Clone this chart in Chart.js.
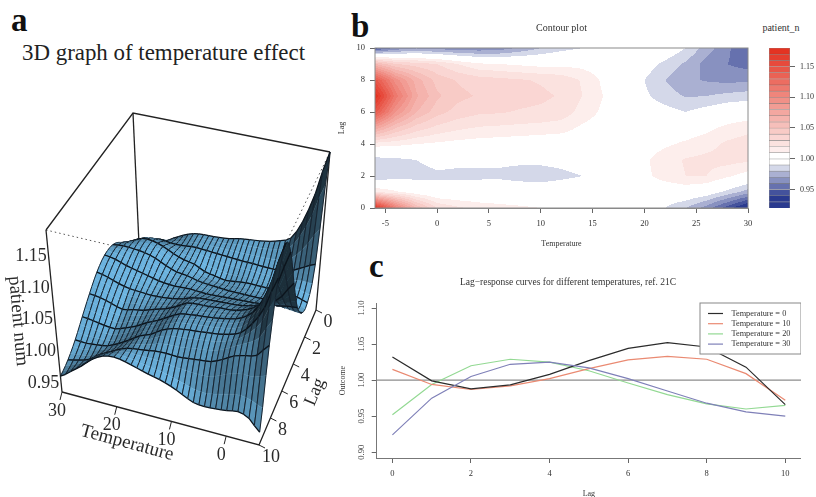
<!DOCTYPE html>
<html>
<head>
<meta charset="utf-8">
<script src="https://cdn.jsdelivr.net/npm/chart.js@4"></script>
<style>
  html, body { margin: 0; padding: 0; background: #fff; overflow: hidden; }
  body { width: 816px; height: 497px; position: relative; filter: blur(0.45px); font-family: "Liberation Serif", serif; }
  canvas { position: absolute; }
  .tag { position: absolute; font-weight: bold; font-size: 33px; line-height: 33px; color: #111; }
  #title3d { position: absolute; left: 22px; top: 40px; font-size: 22.9px; line-height: 26px; color: #222; white-space: nowrap; }
  #keyTitle { position: absolute; left: 746px; width: 70px; top: 22px; text-align: center; font-size: 10px; line-height: 12px; color: #333; }
</style>
</head>
<body>
<div class="tag" style="left:11px;top:4px">a</div>
<div class="tag" style="left:351px;top:10px">b</div>
<div class="tag" style="left:369px;top:250px">c</div>
<div id="title3d">3D graph of temperature effect</div>
<div id="keyTitle">patient_n</div>
<canvas id="surface" width="345" height="497" style="left:0;top:0"></canvas>
<canvas id="contour" width="454" height="262" style="left:335px;top:0"></canvas>
<canvas id="colorbar" width="70" height="220" style="left:746px;top:0"></canvas>
<canvas id="curves" width="466" height="237" style="left:335px;top:262px"></canvas>
<script>
const serif = '"Liberation Serif", serif';

// lag axis and temperature columns of the effect table
const lags = [0, 1, 2, 3, 4, 5, 6, 7, 8, 9, 10];
const temps = [-6, -4, -2, 0, 2, 4, 6, 8, 10, 12, 14, 16, 18, 20, 22, 24, 26, 28, 30];

// one row per lag
const lag0 = [1.18, 1.11, 1.06, 1.03, 1.022, 1.017, 1.014, 1.012, 1.01, 1.006, 1.004, 1.003, 1.002, 0.998, 0.99, 0.98, 0.965, 0.945, 0.924];
const lag1 = [1.02, 1.012, 1.003, 0.997, 0.997, 0.997, 0.998, 0.998, 0.999, 1.0, 1.001, 1.002, 1.002, 1.0, 1.0, 1.002, 0.998, 0.987, 0.975];
const lag2 = [0.98, 0.985, 0.986, 0.988, 0.988, 0.988, 0.988, 0.986, 0.984, 0.987, 0.99, 0.998, 1.001, 1.007, 1.015, 1.02, 1.02, 1.012, 1.005];
const lag3 = [0.985, 0.987, 0.99, 0.9935, 0.992, 0.992, 0.992, 0.992, 0.993, 0.994, 0.996, 1.0, 1.002, 1.008, 1.016, 1.021, 1.023, 1.024, 1.022];
const lag4 = [1.015, 1.013, 1.01, 1.008, 1.006, 1.005, 1.004, 1.003, 1.002, 1.002, 1.003, 1.002, 1.002, 1.004, 1.008, 1.012, 1.016, 1.022, 1.025];
const lag5 = [1.075, 1.05, 1.035, 1.027, 1.022, 1.019, 1.018, 1.017, 1.016, 1.014, 1.008, 1.004, 1.002, 1.001, 1.002, 1.003, 1.007, 1.013, 1.017];
const lag6 = [1.145, 1.09, 1.06, 1.044, 1.036, 1.032, 1.031, 1.029, 1.028, 1.026, 1.016, 1.008, 1.003, 0.997, 0.994, 0.99, 0.995, 1.0, 1.002];
const lag7 = [1.18, 1.115, 1.072, 1.052, 1.043, 1.039, 1.036, 1.034, 1.032, 1.029, 1.02, 1.01, 1.002, 0.992, 0.985, 0.979, 0.98, 0.983, 0.985];
const lag8 = [1.145, 1.095, 1.065, 1.046, 1.039, 1.035, 1.033, 1.031, 1.029, 1.026, 1.019, 1.008, 1.001, 0.99, 0.98, 0.972, 0.969, 0.967, 0.968];
const lag9 = [1.06, 1.04, 1.035, 1.03, 1.02, 1.012, 1.01, 1.008, 1.006, 1.007, 1.006, 1.003, 1.001, 0.996, 0.987, 0.978, 0.966, 0.96, 0.956];
const lag10 = [0.945, 0.962, 0.968, 0.965, 0.963, 0.962, 0.964, 0.972, 0.98, 0.986, 0.99, 0.995, 1.0, 1.003, 1.0, 0.99, 0.975, 0.962, 0.95];
const effect = [lag0, lag1, lag2, lag3, lag4, lag5, lag6, lag7, lag8, lag9, lag10];

// panel c curves
const curveLags = [0, 1, 2, 3, 4, 5, 6, 7, 8, 9, 10];
const curveT0 = [1.032, 0.999, 0.988, 0.9935, 1.008, 1.027, 1.044, 1.052, 1.046, 1.018, 0.966];
const curveT10 = [1.015, 0.994, 0.987, 0.992, 1.002, 1.016, 1.028, 1.033, 1.029, 1.009, 0.972];
const curveT20 = [0.952, 0.994, 1.02, 1.029, 1.025, 1.013, 0.996, 0.98, 0.967, 0.96, 0.965];
const curveT30 = [0.924, 0.975, 1.005, 1.022, 1.025, 1.017, 1.002, 0.985, 0.968, 0.956, 0.95];

// ticks
const contourTempTicks = [-5, 0, 5, 10, 15, 20, 25, 30];
const contourLagTicks = [0, 2, 4, 6, 8, 10];
const barTicks = [0.95, 1.0, 1.05, 1.1, 1.15];
const curveLagTicks = [0, 2, 4, 6, 8, 10];
const curveOutcomeTicks = [0.9, 0.95, 1.0, 1.05, 1.1];
const surfTempTicks = [30, 20, 10, 0];
const surfLagTicks = [0, 2, 4, 6, 8, 10];
const surfZTicks = [0.95, 1.0, 1.05, 1.1, 1.15];

// colour bands
const bandLevels = [0.92, 0.93, 0.94, 0.95, 0.96, 0.97, 0.98, 0.99, 1.0, 1.01, 1.02, 1.03, 1.04, 1.05, 1.06, 1.07, 1.08, 1.09, 1.1, 1.11, 1.12, 1.13, 1.14, 1.15, 1.16, 1.17, 1.18];

function bandColor(mid) {
  if (mid >= 0.99 && mid <= 1.01) return 'rgb(255,255,255)';
  const to = mid > 1 ? [227, 45, 28] : [42, 58, 143];
  const d = Math.abs(mid - 1);
  // the palest blue band is lighter than a straight ramp
  const t = mid > 1 ? Math.min(1, d / 0.18) : (d < 0.02 ? 0.2 : Math.min(1, d / 0.0625));
  return `rgb(${to.map(c => Math.round(255 + (c - 255) * t)).join(',')})`;
}

function valueAt(t, lag) {
  const tf = Math.min(temps.length - 1.001, (t - temps[0]) / 2);
  const lf = Math.min(9.999, Math.max(0, lag));
  const i = Math.floor(Math.max(0, tf)), j = Math.floor(lf);
  const a = Math.max(0, tf) - i, b = lf - j;
  return (effect[j][i] * (1 - a) + effect[j][i + 1] * a) * (1 - b) +
         (effect[j + 1][i] * (1 - a) + effect[j + 1][i + 1] * a) * b;
}

// ---------- panel a: perspective box ----------
const zMin = 0.925, zMax = 1.18;
const boxBottom = { A: [62, 392], B: [259, 445], C: [316, 310], D: [140, 266] };
const boxTop = { A: [46, 230], B: [267, 282], C: [330, 152], D: [133, 113] };

function project(t, lag, z) {
  const a = (t + 6) / 36, b = lag / 10, c = (z - zMin) / (zMax - zMin);
  const out = [0, 0];
  for (let k = 0; k < 2; k++) {
    const low = boxBottom.B[k] * (1 - a) * b + boxBottom.A[k] * a * b + boxBottom.C[k] * (1 - a) * (1 - b) + boxBottom.D[k] * a * (1 - b);
    const high = boxTop.B[k] * (1 - a) * b + boxTop.A[k] * a * b + boxTop.C[k] * (1 - a) * (1 - b) + boxTop.D[k] * a * (1 - b);
    out[k] = low * (1 - c) + high * c;
  }
  return { x: out[0], y: out[1] };
}

function spline(p0, p1, p2, p3, s) {
  return 0.5 * (2 * p1 + (p2 - p0) * s + (2 * p0 - 5 * p1 + 4 * p2 - p3) * s * s + (3 * p1 - p0 - 3 * p2 + p3) * s * s * s);
}

// smooth the table only while drawing the fine ruling
function rowZ(t, row) {
  const f = (t - temps[0]) / 2;
  const i = Math.min(temps.length - 2, Math.floor(f));
  const r = effect[row];
  return spline(r[Math.max(0, i - 1)], r[i], r[i + 1], r[Math.min(temps.length - 1, i + 2)], f - i);
}

function surfaceZ(t, lag) {
  const j = Math.min(9, Math.floor(lag));
  return spline(rowZ(t, Math.max(0, j - 1)), rowZ(t, j), rowZ(t, j + 1), rowZ(t, Math.min(10, j + 2)), lag - j);
}

const surfacePlugin = {
  id: 'surfacePlugin',
  afterDatasetsDraw(chart) {
    const { ctx, scales: { x, y } } = chart;
    const px = p => [x.getPixelForValue(p.x), y.getPixelForValue(p.y)];
    const light = [-0.5, 0.32, 0.8];
    const sub = 3;
    // far corner first: lag 0 / T 30 towards lag 10 / T -6
    for (let step = 0; step < 10 * sub; step++) {
      const l1 = step / sub, l2 = (step + 1) / sub;
      for (let t = 30; t > -6; t--) {
        const t2 = t - 1;
        const z00 = surfaceZ(t, l1), z10 = surfaceZ(t2, l1), z01 = surfaceZ(t, l2), z11 = surfaceZ(t2, l2);
        const pts = [project(t, l1, z00), project(t2, l1, z10), project(t2, l2, z11), project(t, l2, z01)].map(px);
        const dzT = ((z00 + z01 - z10 - z11) / 2) / (zMax - zMin) * 0.8 * 36;
        const dzL = ((z01 + z11 - z00 - z10) / 2) / (zMax - zMin) * 0.8 * 10 * sub;
        const n = [-dzT, -dzL, 1];
        const len = Math.hypot(...n), lenL = Math.hypot(...light);
        const d = (n[0] * light[0] + n[1] * light[1] + n[2] * light[2]) / (len * lenL);
        const shade = Math.max(0.26, Math.min(1, 0.2 + 0.85 * Math.max(0, d)));
        const col = `rgb(${Math.round(108 * shade)},${Math.round(180 * shade)},${Math.round(224 * shade)})`;
        ctx.beginPath();
        pts.forEach((p, i) => i ? ctx.lineTo(p[0], p[1]) : ctx.moveTo(p[0], p[1]));
        ctx.closePath();
        ctx.fillStyle = col;
        ctx.fill();
        ctx.strokeStyle = col;
        ctx.lineWidth = 0.4;
        ctx.stroke();
        // ruling along lag
        ctx.strokeStyle = '#16222e';
        ctx.lineWidth = 1;
        ctx.beginPath();
        ctx.moveTo(pts[0][0], pts[0][1]);
        ctx.lineTo(pts[3][0], pts[3][1]);
        ctx.moveTo(pts[1][0], pts[1][1]);
        ctx.lineTo(pts[2][0], pts[2][1]);
        ctx.stroke();
        // lag lines are heavier
        ctx.strokeStyle = '#0c141c';
        ctx.lineWidth = 1.25;
        ctx.beginPath();
        if (step % sub === 0) {
          ctx.moveTo(pts[0][0], pts[0][1]);
          ctx.lineTo(pts[1][0], pts[1][1]);
        }
        if ((step + 1) % sub === 0) {
          ctx.moveTo(pts[3][0], pts[3][1]);
          ctx.lineTo(pts[2][0], pts[2][1]);
        }
        ctx.stroke();
      }
    }

    // axis ticks and labels
    ctx.save();
    ctx.fillStyle = '#2a2a2a';
    ctx.strokeStyle = '#222';
    ctx.lineWidth = 1;
    ctx.font = `18px ${serif}`;
    ctx.textAlign = 'center';
    ctx.textBaseline = 'middle';
    surfTempTicks.forEach(t => {
      const [a, b] = px(project(t, 10, zMin));
      ctx.beginPath(); ctx.moveTo(a, b); ctx.lineTo(a - 2, b + 8); ctx.stroke();
      ctx.fillText(String(t), a - 5, b + 19);
    });
    surfLagTicks.forEach(l => {
      const [a, b] = px(project(-6, l, zMin));
      ctx.beginPath(); ctx.moveTo(a, b); ctx.lineTo(a + 6, b + 3); ctx.stroke();
      ctx.fillText(String(l), a + 12, b + 12);
    });
    surfZTicks.forEach(v => {
      const [a, b] = px(project(30, 10, v));
      ctx.fillText(v.toFixed(2), a - 17, b + 7);
    });
    const rotated = (s, cx, cy, deg, size) => {
      ctx.save();
      ctx.translate(cx, cy);
      ctx.rotate(deg * Math.PI / 180);
      ctx.font = `${size}px ${serif}`;
      ctx.fillText(s, 0, 0);
      ctx.restore();
    };
    rotated('Temperature', 127, 443, 15, 19);
    rotated('Lag', 315, 392, -67, 18);
    rotated('patient num', 18, 321, 85, 19);
    ctx.restore();
  }
};

const boxEdges = [
  { pts: [boxTop.A, boxTop.D, boxTop.C], dash: [], color: '#222', width: 1.3 },
  { pts: [boxBottom.A, boxTop.A], dash: [], color: '#222', width: 1.3 },
  { pts: [boxBottom.D, boxTop.D], dash: [], color: '#222', width: 1.3 },
  { pts: [boxBottom.C, boxTop.C], dash: [], color: '#222', width: 1.3 },
  { pts: [boxBottom.A, boxBottom.B, boxBottom.C], dash: [], color: '#222', width: 1.3 },
  { pts: [boxTop.A, boxTop.B, boxTop.C], dash: [1.5, 3], color: '#555', width: 1 }
];

new Chart(document.getElementById('surface'), {
  type: 'scatter',
  data: {
    datasets: boxEdges.map(e => ({
      data: e.pts.map(p => ({ x: p[0], y: p[1] })),
      showLine: true,
      pointRadius: 0,
      borderColor: e.color,
      borderWidth: e.width,
      borderDash: e.dash
    })).concat([{
      // grid nodes of the surface, painted as facets by surfacePlugin
      data: effect.flatMap((row, j) => row.map((v, i) => project(temps[i], lags[j], v))),
      pointRadius: 0
    }])
  },
  options: {
    responsive: false,
    animation: false,
    layout: { padding: 0 },
    plugins: { legend: { display: false }, tooltip: { enabled: false } },
    scales: {
      x: { display: false, min: 0, max: 345 },
      y: { display: false, min: 0, max: 497, reverse: true }
    }
  },
  plugins: [surfacePlugin]
});

// ---------- panel b: filled contour ----------
const contourPlugin = {
  id: 'contourPlugin',
  beforeDatasetsDraw(chart) {
    const { ctx, chartArea: area, scales: { x, y } } = chart;
    ctx.save();
    for (let py = Math.round(area.top); py < area.bottom; py++) {
      const lag = y.getValueForPixel(py + 0.5);
      let runStart = Math.round(area.left), runColor = null;
      for (let p = Math.round(area.left); p <= area.right; p++) {
        const v = p < area.right ? valueAt(x.getValueForPixel(p + 0.5), lag) : null;
        const c = v === null ? null : bandColor(Math.floor(v * 100) / 100 + 0.005);
        if (c !== runColor) {
          if (runColor) { ctx.fillStyle = runColor; ctx.fillRect(runStart, py, p - runStart, 1); }
          runStart = p;
          runColor = c;
        }
      }
    }
    ctx.strokeStyle = '#8a8a8a';
    ctx.lineWidth = 1;
    ctx.strokeRect(area.left, area.top, area.width, area.height);
    ctx.restore();
  }
};

new Chart(document.getElementById('contour'), {
  type: 'scatter',
  data: {
    datasets: [{
      data: effect.flatMap((row, j) => row.map((v, i) => ({ x: temps[i], y: lags[j], v: v }))),
      pointRadius: 0
    }]
  },
  options: {
    responsive: false,
    animation: false,
    layout: { padding: { top: 0, left: 0, right: 41, bottom: 13 } },
    plugins: {
      legend: { display: false },
      tooltip: { enabled: false },
      title: {
        display: true,
        fullSize: false,
        text: 'Contour plot',
        color: '#333',
        font: { family: serif, size: 10, weight: 'normal' },
        padding: { top: 22, bottom: 14 }
      }
    },
    scales: {
      x: {
        type: 'linear', min: -6, max: 30,
        afterBuildTicks: a => { a.ticks = contourTempTicks.map(v => ({ value: v })); },
        afterFit: s => { s.height = 41; },
        grid: { drawOnChartArea: false, tickLength: 5, color: '#666' },
        border: { color: '#888' },
        ticks: { color: '#333', font: { family: serif, size: 8.5 }, padding: 6, maxRotation: 0 },
        title: { display: true, text: 'Temperature', color: '#333', font: { family: serif, size: 8 }, padding: 0 }
      },
      y: {
        type: 'linear', min: 0, max: 10,
        afterBuildTicks: a => { a.ticks = contourLagTicks.map(v => ({ value: v })); },
        afterFit: s => { s.width = 40; },
        grid: { drawOnChartArea: false, tickLength: 5, color: '#666' },
        border: { color: '#888' },
        ticks: { color: '#333', font: { family: serif, size: 8.5 }, padding: 5 },
        title: { display: true, text: 'Lag', color: '#333', font: { family: serif, size: 8 }, padding: { top: 2 } }
      }
    }
  },
  plugins: [contourPlugin]
});

// colour key
new Chart(document.getElementById('colorbar'), {
  type: 'bar',
  data: {
    labels: ['key'],
    datasets: bandLevels.slice(0, -1).map((lo, i) => ({
      data: [[lo, bandLevels[i + 1]]],
      backgroundColor: bandColor((lo + bandLevels[i + 1]) / 2),
      borderColor: '#44444499',
      borderWidth: 0.7,
      grouped: false,
      barPercentage: 1,
      categoryPercentage: 1
    }))
  },
  options: {
    responsive: false,
    animation: false,
    layout: { padding: { left: 23, right: 0, bottom: 12, top: 48 } },
    plugins: { legend: { display: false }, tooltip: { enabled: false } },
    scales: {
      x: { display: false },
      y: {
        position: 'right', min: 0.92, max: 1.18,
        afterBuildTicks: a => { a.ticks = barTicks.map(v => ({ value: v })); },
        afterFit: s => { s.width = 26; },
        grid: { drawOnChartArea: false, tickLength: 5, color: '#666' },
        border: { display: false },
        ticks: { color: '#333', font: { family: serif, size: 8 }, padding: 5, callback: v => v.toFixed(2) }
      }
    }
  }
});

// ---------- panel c: lag-response curves ----------
const legendPlugin = {
  id: 'legendPlugin',
  afterDatasetsDraw(chart) {
    const { ctx } = chart;
    const left = 365, top = 41, w = 101, h = 51;
    ctx.save();
    ctx.fillStyle = '#fff';
    ctx.strokeStyle = '#888';
    ctx.lineWidth = 1;
    ctx.fillRect(left, top, w, h);
    ctx.strokeRect(left, top, w, h);
    ctx.font = `8.3px ${serif}`;
    ctx.textBaseline = 'middle';
    chart.data.datasets.filter(d => d.label).forEach((d, i) => {
      const yy = top + 10.5 + i * 10.2;
      ctx.strokeStyle = d.borderColor;
      ctx.lineWidth = 1.2;
      ctx.beginPath();
      ctx.moveTo(left + 8, yy);
      ctx.lineTo(left + 23, yy);
      ctx.stroke();
      ctx.fillStyle = '#333';
      ctx.fillText(d.label, left + 31.5, yy);
    });
    ctx.restore();
  }
};

const curveData = vals => vals.map((v, i) => ({ x: curveLags[i], y: v }));

new Chart(document.getElementById('curves'), {
  type: 'line',
  data: {
    datasets: [
      { label: 'Temperature = 0', data: curveData(curveT0), borderColor: '#2b2b2b', order: 1 },
      { label: 'Temperature = 10', data: curveData(curveT10), borderColor: '#ea8a72', order: 2 },
      { label: 'Temperature = 20', data: curveData(curveT20), borderColor: '#93d993', order: 3 },
      { label: 'Temperature = 30', data: curveData(curveT30), borderColor: '#7f80b8', order: 0 },
      { data: [{ x: -0.4, y: 1 }, { x: 10.4, y: 1 }], borderColor: '#8c8c8c', order: 4 }
    ]
  },
  options: {
    responsive: false,
    animation: false,
    parsing: false,
    elements: { point: { radius: 0 }, line: { borderWidth: 1.2, tension: 0 } },
    layout: { padding: 0 },
    plugins: {
      legend: { display: false },
      tooltip: { enabled: false },
      title: {
        display: true,
        text: 'Lag\u2212response curves for different temperatures, ref. 21C',
        color: '#333',
        font: { family: serif, size: 9.5, weight: 'normal' },
        padding: { top: 15, bottom: 14.6 }
      }
    },
    scales: {
      x: {
        type: 'linear', min: -0.4, max: 10.4,
        afterBuildTicks: a => { a.ticks = curveLagTicks.map(v => ({ value: v })); },
        afterFit: s => { s.height = 41; },
        grid: { drawOnChartArea: false, tickLength: 5, color: '#666' },
        border: { color: '#777' },
        ticks: { color: '#333', font: { family: serif, size: 8.5 }, padding: 6, maxRotation: 0 },
        title: { display: true, text: 'Lag', color: '#333', font: { family: serif, size: 8 }, padding: 0 }
      },
      y: {
        type: 'linear', min: 0.892, max: 1.107,
        afterBuildTicks: a => { a.ticks = curveOutcomeTicks.map(v => ({ value: v })); },
        afterFit: s => { s.width = 41.7; },
        grid: { drawOnChartArea: false, tickLength: 5, color: '#666' },
        border: { color: '#777' },
        ticks: {
          color: '#333', font: { family: serif, size: 8.5 }, padding: 2,
          minRotation: 90, maxRotation: 90, crossAlign: 'center',
          callback: v => v.toFixed(2)
        },
        title: { display: true, text: 'Outcome', color: '#333', font: { family: serif, size: 8 }, padding: { top: 3 } }
      }
    }
  },
  plugins: [legendPlugin]
});
</script>
</body>
</html>
